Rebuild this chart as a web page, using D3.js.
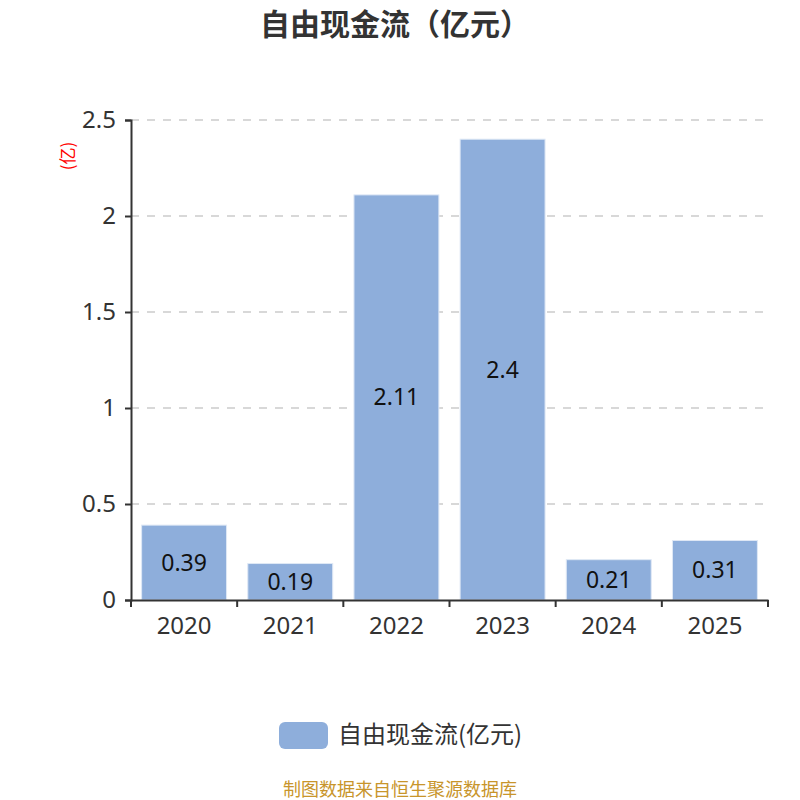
<!DOCTYPE html>
<html><head><meta charset="utf-8">
<script src="https://cdn.jsdelivr.net/npm/d3@7"></script>
<style>body{margin:0;background:#fff;font-family:"Noto Sans CJK SC","Noto Sans",sans-serif;}</style>
</head><body>
<svg id="c" width="800" height="800"></svg>
<script>
const categories = ["2020","2021","2022","2023","2024","2025"];
const values = [0.39,0.19,2.11,2.4,0.21,0.31];
const yTicks = [0,0.5,1,1.5,2,2.5];
const seriesName = "自由现金流(亿元)";

(function(){
const svg = d3.select("#c");
const mLeft = 131, mRight = 768, mTop = 120, mBottom = 600;
const x = d3.scaleBand().domain(categories).range([mLeft, mRight]).paddingInner(0).paddingOuter(0);
const y = d3.scaleLinear().domain([0, 2.5]).range([mBottom, mTop]);

svg.append("text").attr("x", 395).attr("y", 35).attr("text-anchor","middle")
  .attr("font-size", 30).attr("font-weight","bold").attr("fill","#333").text("自由现金流（亿元）");

// grid
svg.append("g").selectAll("line").data(yTicks.filter(d=>d>0)).join("line")
  .attr("x1", mLeft).attr("x2", mRight).attr("y1", d=>y(d)).attr("y2", d=>y(d))
  .attr("stroke","#ccc").attr("stroke-width",1.5).attr("stroke-dasharray","8,8");

// bars
const bw = x.bandwidth()*0.8;
svg.append("g").selectAll("rect").data(values).join("rect")
  .attr("x",(d,i)=>x(categories[i]) + (x.bandwidth()-bw)/2)
  .attr("width", bw)
  .attr("y", d=>y(d)).attr("height", d=>mBottom - y(d))
  .attr("fill","#8eaedb").attr("stroke","#dfe8f5").attr("stroke-width",1);

svg.append("g").selectAll("text").data(values).join("text")
  .attr("x",(d,i)=>x(categories[i]) + x.bandwidth()/2)
  .attr("y", d=>(y(d)+mBottom)/2 + 8)
  .attr("text-anchor","middle").attr("font-size",23).attr("fill","#111")
  .attr("font-family","'Noto Sans',sans-serif")
  .text(d=>d);

// axes
const yAxis = svg.append("g").attr("transform",`translate(${mLeft},0)`)
  .call(d3.axisLeft(y).tickValues(yTicks).tickSize(6).tickPadding(9).tickFormat(d=>d3.format("")(d)));
yAxis.select(".domain").attr("stroke","#333").attr("stroke-width",2);
yAxis.selectAll(".tick line").attr("stroke","#333").attr("stroke-width",2);
yAxis.selectAll("text").attr("font-size",24).attr("fill","#333").attr("font-family","'Noto Sans',sans-serif");

const xAxis = svg.append("g").attr("transform",`translate(0,${mBottom})`)
  .call(d3.axisBottom(x).tickSize(0).tickPadding(17));
xAxis.select(".domain").attr("stroke","#333").attr("stroke-width",2);
xAxis.selectAll("text").attr("font-size",24).attr("fill","#333").attr("font-family","'Noto Sans',sans-serif");
const bounds = categories.map(c=>x(c)).concat([mRight]);
svg.append("g").selectAll("line").data(bounds).join("line")
  .attr("x1",d=>d).attr("x2",d=>d).attr("y1",mBottom).attr("y2",mBottom+7)
  .attr("stroke","#333").attr("stroke-width",2);

// unit label
svg.append("text").attr("transform","translate(74,156) rotate(-90)")
  .attr("text-anchor","middle").attr("font-size",17).attr("fill","red").text("(亿)");

// legend
svg.append("rect").attr("x",279).attr("y",722).attr("width",49).attr("height",27).attr("rx",6)
  .attr("fill","#8eaedb");
svg.append("text").attr("x",338).attr("y",743).attr("font-size",24).attr("fill","#333").text(seriesName);

// footer
svg.append("text").attr("x",400).attr("y",796).attr("text-anchor","middle")
  .attr("font-size",18).attr("fill","#c8952b").text("制图数据来自恒生聚源数据库");
})();
</script>
</body></html>
